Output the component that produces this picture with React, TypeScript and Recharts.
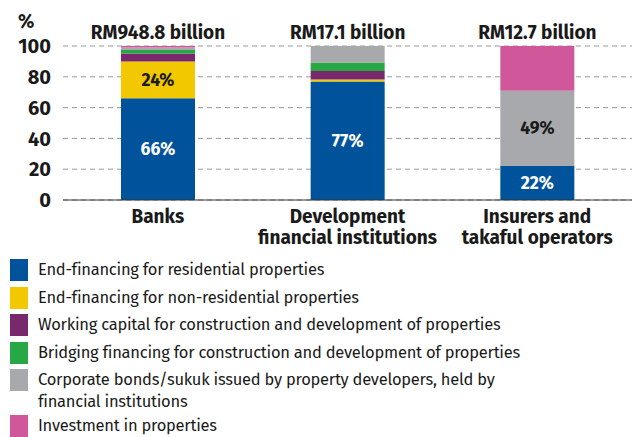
import { BarChart, Bar, XAxis, YAxis, CartesianGrid, LabelList } from "recharts";

// values in % of each institution's property exposure
const categories = ["Banks", "Development\nfinancial institutions", "Insurers and\ntakaful operators"];
const totals = ["RM948.8 billion", "RM17.1 billion", "RM12.7 billion"];
const residential = [66, 77, 22];
const nonResidential = [24, 1.3, 0];
const workingCapital = [5.2, 5.4, 0];
const bridging = [2.2, 5.6, 0];
const bonds = [1.6, 10.7, 49];
const investment = [1.0, 0, 29];
const yTicks = [0, 20, 40, 60, 80, 100];

const seriesNames = [
  "End-financing for residential properties",
  "End-financing for non-residential properties",
  "Working capital for construction and development of properties",
  "Bridging financing for construction and development of properties",
  "Corporate bonds/sukuk issued by property developers, held by\nfinancial institutions",
  "Investment in properties",
];
const seriesKeys = ["residential", "nonResidential", "workingCapital", "bridging", "bonds", "investment"];
const colors = ["#00539b", "#f2c800", "#78296c", "#28a745", "#a7a9ac", "#d1579b"];

const data = categories.map((name, i) => ({
  name,
  total: totals[i],
  stackSum:
    residential[i] + nonResidential[i] + workingCapital[i] + bridging[i] + bonds[i] + investment[i],
  residential: residential[i],
  nonResidential: nonResidential[i],
  workingCapital: workingCapital[i],
  bridging: bridging[i],
  bonds: bonds[i],
  investment: investment[i],
}));

const FONT = "'Fira Sans', Roboto, 'Noto Sans', sans-serif";
const INK = "#1a1a1a";

const CategoryTick = (props: any) => {
  const { x, y, payload } = props;
  const lines = String(payload.value).split("\n");
  return (
    <text x={x} y={y} textAnchor="middle" fontFamily={FONT} fontWeight={700} fontSize={19} fill={INK}>
      {lines.map((l, i) => (
        <tspan key={i} x={x} dy={i === 0 ? 15 : 21}>
          {l}
        </tspan>
      ))}
    </text>
  );
};

const pctLabel = (textColor: string) => (props: any) => {
  const { x, y, width, height, value } = props;
  if (value < 20) return null;
  return (
    <text
      x={x + width / 2}
      y={y + height / 2 + 6}
      textAnchor="middle"
      fontFamily={FONT}
      fontWeight={700}
      fontSize={17.5}
      fill={textColor}
    >
      {Math.round(value)}%
    </text>
  );
};

// total sits above the whole stack; work out stack top from the residential segment's scale
const totalLabel = (props: any) => {
  const { x, y, width, height, index } = props;
  const row = data[index];
  const bottom = y + height;
  const top = bottom - (height / row.residential) * row.stackSum;
  return (
    <text x={x + width / 2} y={top - 7} textAnchor="middle" fontFamily={FONT} fontWeight={700} fontSize={19} fill={INK}>
      {row.total}
    </text>
  );
};

const labelColors: Record<string, string> = { residential: "#ffffff", nonResidential: INK, bonds: INK };

export default function App() {
  return (
    <div style={{ position: "absolute", left: 0, top: 0, width: 638, height: 437, background: "#fff", fontFamily: FONT }}>
      <div style={{ position: "absolute", left: 18, top: 10, fontSize: 19, fontWeight: 700, color: INK }}>%</div>
      <BarChart width={638} height={250} data={data} margin={{ top: 46, right: 6, left: 0, bottom: 0 }}>
        <CartesianGrid vertical={false} stroke="#9a9a9a" strokeDasharray="5 4" />
        <XAxis
          dataKey="name"
          height={50}
          interval={0}
          tickLine={false}
          axisLine={{ stroke: "#333" }}
          tick={<CategoryTick />}
        />
        <XAxis
          xAxisId="edges"
          type="number"
          domain={[0, 3]}
          ticks={[0, 1, 2, 3]}
          tick={false}
          tickSize={4}
          height={0}
          axisLine={false}
          tickLine={{ stroke: "#333" }}
        />
        <YAxis
          width={63}
          domain={[0, 100]}
          ticks={yTicks}
          axisLine={false}
          tickLine={false}
          tickSize={0}
          tickMargin={12}
          tick={{ fontFamily: FONT, fontWeight: 700, fontSize: 20, fill: INK }}
        />
        {seriesKeys.map((k, i) => (
          <Bar key={k} dataKey={k} stackId="a" fill={colors[i]} barSize={74} isAnimationActive={false}>
            {labelColors[k] && <LabelList dataKey={k} content={pctLabel(labelColors[k])} />}
            {k === "residential" && <LabelList dataKey="total" content={totalLabel} />}
          </Bar>
        ))}
      </BarChart>
      <div style={{ position: "absolute", left: 10, top: 259 }}>
        {seriesNames.map((n, i) => (
          <div key={n} style={{ display: "flex", alignItems: "flex-start", marginBottom: i === 4 ? 2 : 5.5 }}>
            <div style={{ width: 18, height: 22, background: colors[i], flexShrink: 0 }} />
            <div
              style={{
                marginLeft: 10,
                fontSize: 16.5,
                letterSpacing: -0.25,
                lineHeight: "22px",
                color: INK,
                whiteSpace: "pre-line",
              }}
            >
              {n}
            </div>
          </div>
        ))}
      </div>
    </div>
  );
}
